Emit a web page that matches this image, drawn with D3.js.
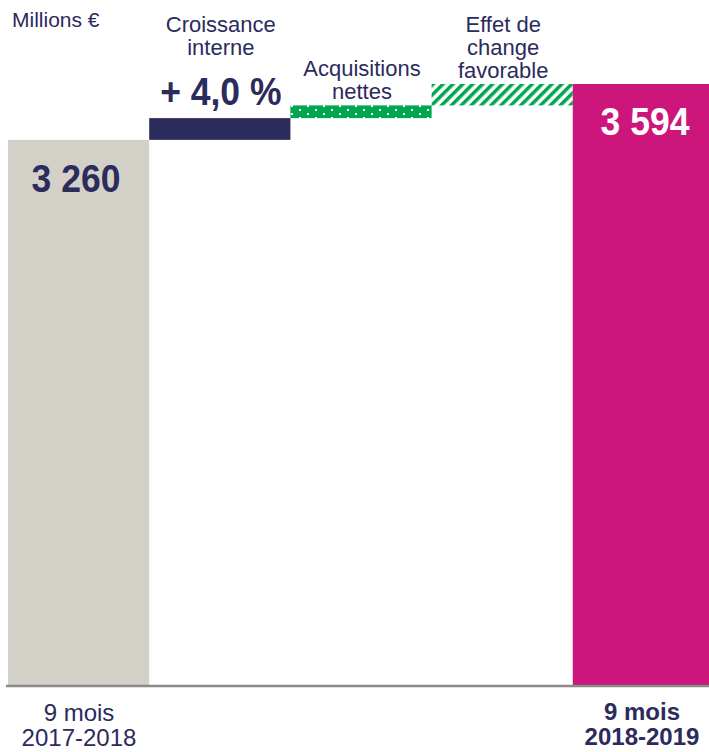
<!DOCTYPE html>
<html>
<head>
<meta charset="utf-8">
<script src="https://cdn.jsdelivr.net/npm/d3@7"></script>
<style>
  body { margin: 0; background: #fff; }
  text { font-family: "Liberation Sans", Arial, sans-serif; }
</style>
</head>
<body>
<div id="chart"></div>
<script>
// data
const categories = ["start", "interne", "acquisitions", "change", "end"];
const values = [3260, 130, 76, 128, 3594];
const kinds = ["total", "delta", "delta", "delta", "total"];
const valueLabels = ["3 260", "+ 4,0 %", "", "", "3 594"];
const topLabels = [[], ["Croissance", "interne"], ["Acquisitions", "nettes"], ["Effet de", "change", "favorable"], []];
const bottomLabels = [["9 mois", "2017-2018"], [], [], [], ["9 mois", "2018-2019"]];

const width = 709, height = 752;
const navy = "#2b2b5c", grey = "#d3d0c8", green = "#00a650", magenta = "#cc167c";

const svg = d3.select("#chart").append("svg")
    .attr("width", width)
    .attr("height", height);

const defs = svg.append("defs");
// dotted pattern
const dots = defs.append("pattern")
    .attr("id", "dots")
    .attr("patternUnits", "userSpaceOnUse")
    .attr("width", 16).attr("height", 8);
dots.append("rect").attr("width", 16).attr("height", 8).attr("fill", green);
dots.append("rect").attr("x", 3).attr("y", 1).attr("width", 2).attr("height", 2).attr("fill", "#fff");
dots.append("rect").attr("x", 11).attr("y", 5).attr("width", 2).attr("height", 2).attr("fill", "#fff");
// hatch pattern
const hatch = defs.append("pattern")
    .attr("id", "hatch")
    .attr("patternUnits", "userSpaceOnUse")
    .attr("width", 7).attr("height", 7)
    .attr("patternTransform", "rotate(45)");
hatch.append("rect").attr("width", 7).attr("height", 7).attr("fill", "#fff");
hatch.append("rect").attr("width", 3.5).attr("height", 7).attr("fill", green);

// scales
const x = d3.scaleBand()
    .domain(categories)
    .range([8, 714])
    .padding(0);

const y = d3.scaleLinear()
    .domain([0, 3594])
    .range([685, 84]);

// running totals
let acc = 0;
const bars = categories.map((c, i) => {
    let y0, y1;
    if (kinds[i] === "total") { y0 = 0; y1 = values[i]; acc = values[i]; }
    else { y0 = acc; y1 = acc + values[i]; acc = y1; }
    return {key: c, y0, y1, i};
});

const fills = [grey, navy, "url(#dots)", "url(#hatch)", magenta];

svg.selectAll(".bar")
    .data(bars)
    .enter().append("rect")
    .attr("class", "bar")
    .attr("x", d => x(d.key))
    .attr("width", x.bandwidth())
    .attr("y", d => y(d.y1))
    .attr("height", d => y(d.y0) - y(d.y1))
    .attr("fill", (d, i) => fills[i]);

// baseline
svg.append("line")
    .attr("x1", 6).attr("x2", width)
    .attr("y1", y(0) + 1).attr("y2", y(0) + 1)
    .attr("stroke", "#8a8a8a")
    .attr("stroke-width", 2.5);

// unit
svg.append("text")
    .attr("x", 12).attr("y", 26.5)
    .attr("font-size", 21)
    .attr("fill", navy)
    .text("Millions €");

// labels above delta bars
const lineH = 23;
bars.forEach((d, i) => {
    const cx = x(d.key) + x.bandwidth() / 2 + 1;
    const lines = topLabels[i];
    if (!lines.length) return;
    const lastY = i === 1 ? 55 : y(d.y1) - 6;
    lines.forEach((t, j) => {
        svg.append("text")
            .attr("x", cx)
            .attr("y", lastY - (lines.length - 1 - j) * lineH)
            .attr("text-anchor", "middle")
            .attr("font-size", 22)
            .attr("fill", navy)
            .text(t);
    });
});

// value labels
const bigText = (tx, ty, t, col) => svg.append("text")
    .attr("transform", `translate(${tx},${ty}) scale(1,1.08)`)
    .attr("text-anchor", "middle")
    .attr("font-size", 35.5)
    .attr("font-weight", "bold")
    .attr("fill", col)
    .text(t);

bigText(x("interne") + x.bandwidth() / 2 + 1, y(bars[1].y1) - 13, valueLabels[1], navy);
bigText(76, y(bars[0].y1) + 52, valueLabels[0], navy);
bigText(645, y(bars[4].y1) + 51, valueLabels[4], "#fff");

// bottom category labels
[[0, 79, "normal", 721], [4, 642, "bold", 720]].forEach(([i, cx, fw, by]) => {
    bottomLabels[i].forEach((t, j) => {
        svg.append("text")
            .attr("x", cx)
            .attr("y", by + j * 25)
            .attr("text-anchor", "middle")
            .attr("font-size", 24)
            .attr("font-weight", fw)
            .attr("fill", navy)
            .text(t);
    });
});
</script>
</body>
</html>
